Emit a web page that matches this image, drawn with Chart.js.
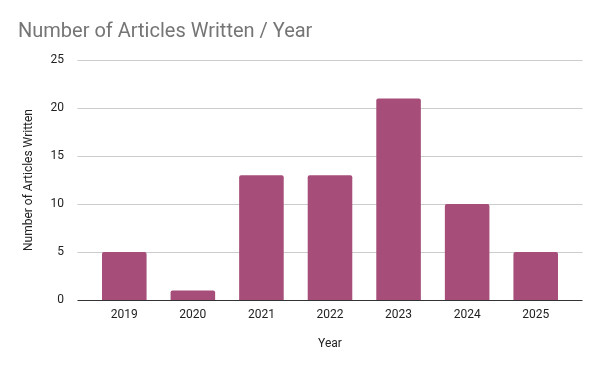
<!DOCTYPE html>
<html>
<head>
<meta charset="utf-8">
<script src="https://cdn.jsdelivr.net/npm/chart.js@4/dist/chart.umd.min.js"></script>
<style>
  html, body { margin: 0; padding: 0; background: #fff; }
  #wrap { width: 600px; height: 371px; }
</style>
</head>
<body>
<div id="wrap"><canvas id="articleChart"></canvas></div>
<script>
const years = ["2019", "2020", "2021", "2022", "2023", "2024", "2025"];
const articles = [5, 1, 13, 13, 21, 10, 5];
const yTicks = [0, 5, 10, 15, 20, 25];

// gridlines run a bit past the category area, like the sheets chart
const wideGrid = {
    id: "wideGrid",
    beforeDatasetsDraw(chart) {
        const c = chart.ctx;
        const area = chart.chartArea;
        const y = chart.scales.y;
        const ext = 12.5;
        c.save();
        yTicks.forEach(v => {
            const py = Math.round(y.getPixelForValue(v)) + 0.5;
            c.beginPath();
            c.strokeStyle = v === 0 ? "#333333" : "#cccccc";
            c.lineWidth = 1;
            c.moveTo(area.left - ext, py);
            c.lineTo(area.right + ext, py);
            c.stroke();
        });
        c.restore();
    }
};

document.addEventListener("DOMContentLoaded", function () {
    const ctx = document.getElementById("articleChart");

    new Chart(ctx, {
        type: "bar",
        data: {
            labels: years,
            datasets: [
                {
                    label: "Number of Articles Written",
                    data: articles,
                    backgroundColor: "#a64d79",
                    borderRadius: 2,
                    borderSkipped: "bottom",
                    barPercentage: 0.65,
                    categoryPercentage: 1
                }
            ]
        },
        plugins: [wideGrid],
        options: {
            responsive: true,
            maintainAspectRatio: false,
            animation: false,
            layout: { padding: { left: 18, right: 30, top: 0, bottom: 0 } },
            plugins: {
                legend: { display: false },
                tooltip: { enabled: false },
                title: {
                    display: true,
                    text: "Number of Articles Written / Year",
                    align: "start",
                    color: "#757575",
                    font: { family: "Roboto", size: 20, weight: "normal" },
                    padding: { top: 20, bottom: 16 }
                }
            },
            scales: {
                x: {
                    grid: { display: false, drawTicks: false },
                    border: { display: false },
                    ticks: {
                        color: "#222222",
                        font: { family: "Roboto", size: 12 },
                        padding: 8,
                        maxRotation: 0
                    },
                    title: {
                        display: true,
                        text: "Year",
                        color: "#222222",
                        font: { family: "Roboto", size: 12 },
                        padding: { top: 4, bottom: 20 }
                    },
                    afterFit: function (scale) { scale.height = 71; }
                },
                y: {
                    min: 0,
                    max: 25,
                    afterBuildTicks: function (scale) {
                        scale.ticks = yTicks.map(v => ({ value: v }));
                    },
                    grid: { display: false, drawTicks: false },
                    border: { display: false },
                    ticks: {
                        color: "#222222",
                        font: { family: "Roboto", size: 12 },
                        padding: 26
                    },
                    title: {
                        display: true,
                        text: "Number of Articles Written",
                        color: "#222222",
                        font: { family: "Roboto", size: 12 },
                        padding: { bottom: 0 }
                    },
                    afterFit: function (scale) { scale.width = 72; }
                }
            }
        }
    });
});
</script>
</body>
</html>
